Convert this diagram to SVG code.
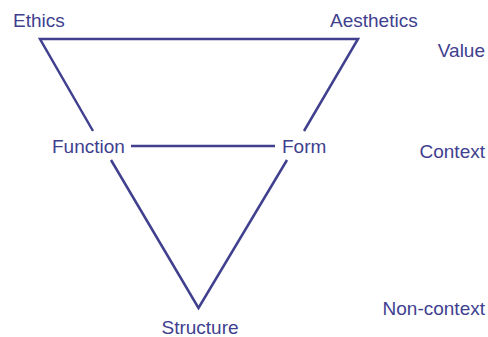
<svg xmlns="http://www.w3.org/2000/svg" width="488" height="337" viewBox="0 0 488 337">
<style>
  text { font-family: "Liberation Sans", Arial, sans-serif; font-size: 19px; fill: #40408f; }
  .ln { fill: none; stroke: #40408f; stroke-width: 2.5; stroke-linejoin: miter; }
  .r { text-anchor: end; }
  .c { text-anchor: middle; }
</style>
<rect width="488" height="337" fill="#ffffff"/>
<g id="connectors">
  <path class="ln" d="M 93 131 L 40 39 L 358 39 L 304 131"/>
  <path class="ln" d="M 111 160 L 198.5 308 L 287 160"/>
  <path class="ln" d="M 131 146 L 275 146"/>
</g>
<g id="ethics"><text x="13" y="27">Ethics</text></g>
<g id="aesthetics"><text x="330" y="27">Aesthetics</text></g>
<g id="function"><text x="52" y="153">Function</text></g>
<g id="form"><text x="282" y="153">Form</text></g>
<g id="structure"><text class="c" x="200" y="334">Structure</text></g>
<g id="value"><text class="r" x="485" y="57">Value</text></g>
<g id="context"><text class="r" x="485" y="158">Context</text></g>
<g id="noncontext"><text class="r" x="485" y="315">Non-context</text></g>
</svg>
